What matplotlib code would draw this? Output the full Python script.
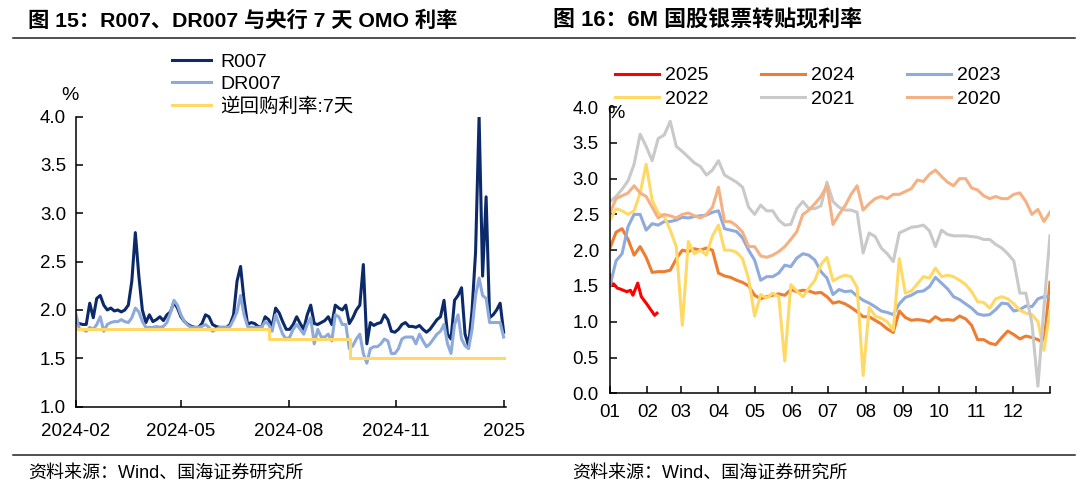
import matplotlib
matplotlib.use("Agg")
import matplotlib.pyplot as plt
from matplotlib.lines import Line2D
from matplotlib.ticker import FormatStrFormatter, FixedLocator
import numpy as np
import pandas as pd

plt.rcParams['font.family'] = ['Liberation Sans', 'Noto Sans CJK SC', 'DejaVu Sans']
plt.rcParams['axes.unicode_minus'] = False

# ---------- 图15 data (sampled every 3 days from 2024-02-01) ----------
r007 = [1.87, 1.86, 1.85, 1.85, 2.07, 1.92, 2.12, 2.15, 2.05, 2.00,
        2.02, 1.99, 2.00, 1.98, 2.00, 2.05, 2.30, 2.80, 2.35, 2.00,
        1.87, 1.95, 1.88, 1.90, 1.93, 1.89, 1.95, 1.98, 2.08, 2.02,
        1.93, 1.88, 1.85, 1.83, 1.82, 1.82, 1.86, 1.95, 1.93, 1.85,
        1.83, 1.82, 1.82, 1.82, 1.85, 1.95, 2.30, 2.45, 2.10, 1.85,
        1.87, 1.86, 1.83, 1.82, 1.93, 1.90, 1.83, 2.02, 1.97, 1.88,
        1.80, 1.80, 1.85, 1.93, 1.86, 1.80, 1.95, 2.05, 1.86, 1.85,
        1.87, 1.89, 1.93, 1.85, 2.05, 2.02, 2.00, 2.05, 1.86, 1.92,
        2.00, 2.05, 2.47, 1.65, 1.87, 1.84, 1.86, 1.87, 1.95, 1.90,
        1.78, 1.77, 1.80, 1.85, 1.87, 1.83, 1.83, 1.82, 1.84, 1.80,
        1.77, 1.80, 1.85, 1.90, 1.93, 2.10, 1.75, 1.70, 2.10, 2.15,
        2.23, 1.75, 1.63, 2.00, 2.60, 4.00, 2.35, 3.17, 1.92, 1.95,
        2.00, 2.07, 1.77]
dr007 = [1.97, 1.80, 1.80, 1.78, 1.82, 1.80, 1.85, 1.93, 1.78, 1.85,
         1.87, 1.88, 1.88, 1.90, 1.88, 1.87, 1.92, 2.02, 1.98, 1.88,
         1.82, 1.82, 1.82, 1.83, 1.82, 1.83, 1.87, 1.97, 2.10, 2.05,
         1.95, 1.88, 1.84, 1.82, 1.82, 1.82, 1.83, 1.85, 1.82, 1.78,
         1.80, 1.82, 1.82, 1.82, 1.83, 1.90, 1.98, 2.15, 1.95, 1.83,
         1.82, 1.82, 1.82, 1.82, 1.88, 1.85, 1.78, 1.95, 1.85, 1.75,
         1.70, 1.72, 1.80, 1.85, 1.80, 1.75, 1.85, 1.92, 1.65, 1.80,
         1.72, 1.72, 1.75, 1.68, 1.95, 1.93, 1.85, 1.85, 1.60, 1.63,
         1.70, 1.75, 1.55, 1.45, 1.60, 1.62, 1.62, 1.65, 1.70, 1.68,
         1.55, 1.55, 1.60, 1.70, 1.72, 1.72, 1.72, 1.65, 1.75, 1.68,
         1.62, 1.65, 1.70, 1.75, 1.78, 1.85, 1.65, 1.55, 1.85, 1.95,
         1.70, 1.63, 1.60, 1.80, 2.15, 2.33, 2.15, 2.12, 1.87, 1.87,
         1.87, 1.87, 1.72]
dates15 = pd.date_range("2024-02-01", periods=len(r007), freq="3D")
omo_dates = pd.to_datetime(["2024-02-01", "2024-07-15", "2024-09-23", "2025-02-02"])
omo_rate = [1.8, 1.7, 1.5, 1.5]
ticks15 = pd.to_datetime(["2024-02-01", "2024-05-01", "2024-08-01", "2024-11-01", "2025-02-01"])
ticklabels15 = ["2024-02", "2024-05", "2024-08", "2024-11", "2025"]

# ---------- 图16 data (day of year, every 5 days) ----------
days16 = np.arange(0, 366, 5)
y2024 = [2.03, 2.25, 2.30, 2.15, 1.93, 2.05, 1.90, 1.69, 1.70, 1.70,
         1.72, 1.88, 2.00, 1.98, 2.02, 2.00, 2.03, 2.00, 1.68, 1.64,
         1.62, 1.58, 1.55, 1.50, 1.37, 1.32, 1.35, 1.37, 1.39, 1.37,
         1.45, 1.42, 1.44, 1.43, 1.40,
         1.41, 1.35, 1.26, 1.28, 1.25, 1.20, 1.14, 1.07, 1.07, 1.02,
         0.97, 0.90, 0.85, 1.15, 1.06, 1.02, 1.03, 1.02, 1.00, 1.07,
         1.02, 1.03, 1.02, 1.08, 1.04, 0.95, 0.75, 0.75, 0.70, 0.68,
         0.78, 0.87, 0.82, 0.76, 0.80, 0.78, 0.75, 0.70, 1.55]
y2023 = [1.50, 1.85, 1.95, 2.33, 2.50, 2.50, 2.28, 2.37, 2.35, 2.40,
         2.40, 2.42, 2.46, 2.45, 2.47, 2.48, 2.49, 2.53, 2.55, 2.30,
         2.28, 2.26, 2.17, 2.00, 1.86, 1.58, 1.63, 1.63, 1.68, 1.79,
         1.77, 1.89, 1.95, 1.93, 1.86,
         1.70, 1.61, 1.38, 1.45, 1.42, 1.43, 1.36, 1.30, 1.26, 1.21,
         1.15, 1.13, 1.10, 1.25, 1.34, 1.37, 1.42, 1.43, 1.49, 1.62,
         1.54, 1.46, 1.35, 1.31, 1.25, 1.19, 1.11, 1.09, 1.10, 1.17,
         1.26, 1.25, 1.15, 1.17, 1.22, 1.21, 1.32, 1.35, 1.35]
y2022 = [2.42, 2.58, 2.55, 2.50, 2.55, 2.80, 3.20, 2.70, 2.52, 2.47,
         2.28, 2.05, 0.95, 2.12, 1.95, 2.00, 1.93, 2.20, 2.35, 2.00,
         2.00, 1.97, 1.88, 1.60, 1.08, 1.38, 1.33, 1.40, 1.35, 0.45,
         1.52, 1.43, 1.35, 1.47, 1.58,
         1.80, 1.90, 1.57, 1.62, 1.65, 1.63, 1.48, 0.25, 1.20, 1.08,
         1.05, 1.00, 0.88, 1.88, 1.40, 1.43, 1.53, 1.63, 1.61, 1.75,
         1.63, 1.65, 1.63, 1.58, 1.52, 1.42, 1.28, 1.27, 1.19, 1.32,
         1.35, 1.32, 1.25, 1.16, 1.12, 1.10, 1.00, 0.60, 1.15]
y2021 = [2.68, 2.75, 2.85, 2.97, 3.20, 3.62, 3.45, 3.25, 3.56, 3.61,
         3.80, 3.45, 3.38, 3.30, 3.22, 3.17, 3.05, 3.12, 3.25, 3.05,
         3.00, 2.95, 2.88, 2.60, 2.50, 2.63, 2.55, 2.55, 2.42, 2.35,
         2.36, 2.58, 2.68, 2.58, 2.58,
         2.62, 2.95, 2.68, 2.60, 2.56, 2.56, 2.53, 1.96, 2.24, 2.19,
         2.03, 1.95, 1.84, 2.24, 2.28, 2.32, 2.33, 2.35, 2.27, 2.05,
         2.28, 2.22, 2.20, 2.20, 2.20, 2.19, 2.18, 2.15, 2.15, 2.08,
         2.03, 1.95, 1.85, 1.40, 1.40, 0.98, 0.10, 1.20, 2.20]
y2020 = [2.52, 2.72, 2.76, 2.80, 2.90, 2.80, 2.75, 2.60, 2.45, 2.50,
         2.48, 2.45, 2.50, 2.52, 2.48, 2.45, 2.50, 2.60, 2.88, 2.40,
         2.40, 2.34, 2.25, 2.05, 2.05, 1.92, 1.90, 1.93, 1.98, 2.05,
         2.15, 2.26, 2.50, 2.56, 2.65,
         2.75, 2.90, 2.36, 2.50, 2.62, 2.78, 2.90, 2.56, 2.65, 2.72,
         2.75, 2.72, 2.78, 2.78, 2.82, 2.86, 2.98, 2.96, 3.06, 3.12,
         3.03, 2.95, 2.90, 3.00, 3.00, 2.87, 2.84, 2.76, 2.72, 2.75,
         2.72, 2.72, 2.78, 2.80, 2.68, 2.50, 2.57, 2.40, 2.53]
days2025 = [0, 1, 3, 6, 8, 11, 14, 17, 19, 23, 26, 30, 35, 37, 39]
y2025 = [1.65, 1.51, 1.53, 1.47, 1.46, 1.44, 1.42, 1.44, 1.37, 1.54,
         1.35, 1.26, 1.14, 1.09, 1.12]
month_days = pd.date_range("2021-01-01", periods=12, freq="MS").dayofyear - 1
month_labels = ["%02d" % m for m in range(1, 13)]

fig = plt.figure(figsize=(10.8, 4.99), dpi=100)

def style_axes(ax):
    for s in ["top", "right"]:
        ax.spines[s].set_visible(False)
    for s in ["left", "bottom"]:
        ax.spines[s].set_linewidth(1.1)
    ax.tick_params(direction="in", length=5, width=1.1, labelsize=13.5)
    ax.yaxis.set_major_formatter(FormatStrFormatter("%.1f"))

# ---------- left chart ----------
ax1 = fig.add_axes([0.0701, 0.185, 0.3984, 0.5814])
ax1.plot(dates15, r007, color="#0c2a6a", lw=2.2, label="R007")
ax1.plot(dates15, dr007, color="#8eaadb", lw=2.2, label="DR007")
ax1.plot(omo_dates, omo_rate, color="#ffd966", lw=2.2, drawstyle="steps-post",
         label="逆回购利率:7天")
ax1.set_ylim(1.0, 4.0)
ax1.set_yticks(np.arange(1.0, 4.01, 0.5))
ax1.set_xlim(pd.Timestamp("2024-02-01"), pd.Timestamp("2025-02-03"))
ax1.set_xticks(ticks15)
ax1.set_xticklabels(ticklabels15)
style_axes(ax1)
ax1.tick_params(axis="y", pad=7)
ax1.tick_params(axis="x", pad=12)
ax1.legend(loc="upper left", bbox_to_anchor=(0.159, 0.894), bbox_transform=fig.transFigure,
           frameon=False, fontsize=14, handlelength=2.0, handletextpad=0.5,
           labelspacing=0.25, borderpad=0, borderaxespad=0)
fig.text(0.065, 1 - 96 / 499, "%", fontsize=14, ha="center", va="center")

# ---------- right chart ----------
ax2 = fig.add_axes([0.5648, 0.2118, 0.4074, 0.5737])
h25, = ax2.plot(days2025, y2025, color="#ff0000", lw=2.2, label="2025")
h24, = ax2.plot(days16, y2024, color="#ed7d31", lw=2.2, label="2024")
h23, = ax2.plot(days16, y2023, color="#8faadc", lw=2.2, label="2023")
h22, = ax2.plot(days16, y2022, color="#ffd966", lw=2.2, label="2022")
h21, = ax2.plot(days16, y2021, color="#c9c9c9", lw=2.2, label="2021")
h20, = ax2.plot(days16, y2020, color="#f4b183", lw=2.2, label="2020")
ax2.set_ylim(0.0, 4.0)
ax2.set_yticks(np.arange(0.0, 4.01, 0.5))
ax2.set_xlim(0, 365)
ax2.set_xticks(month_days)
ax2.set_xticklabels(month_labels)
ax2.xaxis.set_minor_locator(FixedLocator([365]))
style_axes(ax2)
ax2.tick_params(axis="x", which="minor", direction="in", length=5, width=1.1)
ax2.tick_params(axis="y", pad=8)
ax2.tick_params(axis="x", pad=8)
ax2.legend([h25, h22, h24, h21, h23, h20], ["2025", "2022", "2024", "2021", "2023", "2020"],
           ncol=3, loc="upper left", bbox_to_anchor=(0.5694, 0.866),
           bbox_transform=fig.transFigure, frameon=False, fontsize=14,
           handlelength=2.27, handletextpad=0.3, columnspacing=2.7,
           labelspacing=0.3, borderpad=0, borderaxespad=0)
fig.text(616 / 1080, 1 - 113 / 499, "%", fontsize=14, ha="center", va="center")

# ---------- titles, rules, sources ----------
fig.text(28 / 1080, 1 - 21 / 499, "图 15：R007、DR007 与央行 7 天 OMO 利率",
         fontsize=15.3, weight="bold", va="center")
fig.text(553 / 1080, 1 - 21 / 499, "图 16：6M 国股银票转贴现利率",
         fontsize=15.8, weight="bold", va="center")
fig.add_artist(Line2D([13 / 1080, 1075 / 1080], [1 - 38 / 499] * 2, color="#222222", lw=1.1))
fig.add_artist(Line2D([13 / 1080, 1075 / 1080], [1 - 455 / 499] * 2, color="#222222", lw=1.1))
fig.text(28 / 1080, 1 - 473 / 499, "资料来源：Wind、国海证券研究所", fontsize=13, va="center")
fig.text(572 / 1080, 1 - 473 / 499, "资料来源：Wind、国海证券研究所", fontsize=13, va="center")

fig.savefig("out.png", dpi=100)
